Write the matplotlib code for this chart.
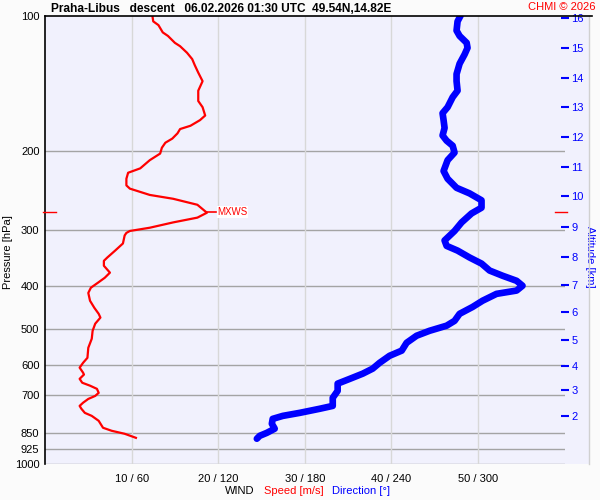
import matplotlib
matplotlib.use('Agg')
import matplotlib.pyplot as plt
from matplotlib.ticker import NullLocator, FixedLocator
from matplotlib.patches import Rectangle
from matplotlib.lines import Line2D

plt.rcParams['font.family'] = ['Liberation Sans', 'DejaVu Sans']

# wind speed profile
speed_p = [100, 103, 105, 109, 111, 115, 117, 121, 125, 129, 134, 140, 147, 155, 160,
           167, 171, 176, 179, 183, 188, 192, 197, 203, 210, 219, 224, 231, 239, 243,
           251, 256, 264, 275, 282, 289, 297, 302, 305, 309, 322, 334, 346, 352, 361,
           374, 384, 394, 404, 415, 432, 448, 462, 471, 486, 504, 525, 550, 579, 594,
           609, 625, 631, 645, 658, 668, 679, 693, 704, 715, 729, 741, 752, 768, 780,
           800, 829, 842, 855, 873]
speed_ms = [12.4, 12.5, 13.1, 13.6, 14.2, 15.0, 15.6, 16.4, 17.0, 17.3, 17.7, 18.2, 17.7, 17.7, 18.2,
            18.5, 17.9, 16.8, 15.6, 15.3, 14.7, 13.9, 13.5, 13.3, 12.1, 11.0, 9.6, 9.4, 9.4, 9.8,
            12.1, 14.8, 17.6, 18.7, 17.6, 14.8, 12.1, 9.8, 9.4, 9.2, 9.0, 8.1, 7.2, 6.8, 6.8,
            7.5, 6.9, 6.1, 5.3, 5.0, 5.2, 5.7, 6.2, 6.4, 5.8, 5.5, 5.4, 5.0, 4.9, 4.4,
            4.0, 4.4, 4.5, 4.0, 4.3, 5.2, 6.0, 6.2, 5.8, 5.0, 4.4, 4.0, 4.2, 4.6, 5.4,
            6.2, 6.7, 7.7, 9.2, 10.5]

# wind direction profile
dir_p = [100, 103, 108, 111, 115, 118, 122, 128, 135, 140, 147, 152, 160, 165, 171,
         178, 185, 190, 195, 202, 210, 222, 231, 242, 249, 258, 268, 276, 289, 302,
         317, 326, 334, 346, 357, 370, 380, 390, 400, 410, 417, 432, 446, 462, 479,
         491, 504, 517, 536, 558, 573, 594, 612, 628, 645, 661, 686, 711, 741, 752,
         768, 780, 792, 812, 833, 851, 864, 877]
dir_deg = [288.0, 285.9, 285.2, 287.3, 292.2, 292.8, 290.8, 287.3, 285.2, 285.2, 285.9, 282.5, 279.0, 275.5, 276.2,
           276.9, 275.5, 278.3, 282.5, 283.8, 279.0, 276.2, 279.0, 285.2, 294.2, 302.5, 302.5, 295.6, 288.7, 283.8,
           276.9, 278.3, 285.9, 294.2, 302.5, 308.1, 317.1, 326.8, 330.9, 326.8, 312.9, 303.2, 296.3, 287.3, 283.8,
           278.3, 266.5, 257.5, 250.6, 247.2, 238.8, 231.9, 227.1, 220.2, 211.2, 202.8, 202.8, 199.4, 199.4, 190.4,
           176.5, 164.8, 157.8, 157.2, 159.2, 153.7, 148.8, 146.8]

p_ticks = [100, 200, 300, 400, 500, 600, 700, 850, 925, 1000]
speed_ticks = [10, 20, 30, 40, 50]
dir_ticks = [60, 120, 180, 240, 300]
alt_km = [2, 3, 4, 5, 6, 7, 8, 9, 10, 11, 12, 13, 14, 15, 16]
alt_p = [780, 683, 604, 528, 458, 398.5, 345, 296, 253, 217, 186, 160, 138, 118.3, 101.4]
mxws_p = 274
mxws_speed = 18.7

title = 'Praha-Libus   descent   06.02.2026 01:30 UTC  49.54N,14.82E'

bg = '#f1f1fd'
fig = plt.figure(figsize=(6, 5), dpi=100, facecolor='#fbfbfb')
L, B, W, H = 45/600, 35.7/500, 519.5/600, 448.7/500
ax = fig.add_axes([L, B, W, H])
ax.set_facecolor(bg)
ax.set_yscale('log')
ax.set_ylim(1000, 100)
ax.set_xlim(0, 60)
ax.yaxis.set_major_locator(FixedLocator(p_ticks))
ax.yaxis.set_minor_locator(NullLocator())
ax.set_yticklabels([str(p) for p in p_ticks])
ax.set_xticks(speed_ticks)
ax.set_xticklabels(['%d / %d' % (s, d) for s, d in zip(speed_ticks, dir_ticks)])
ax.tick_params(axis='both', length=0, labelsize=8)
ax.tick_params(axis='y', pad=4)
ax.tick_params(axis='x', pad=7)
for p in p_ticks[1:]:
    ax.axhline(p, color='#a4a4a4', lw=1, zorder=1)
for s in speed_ticks:
    ax.axvline(s, color='#d8d8d8', lw=1, zorder=1)
for side in ['top', 'right', 'bottom']:
    ax.spines[side].set_visible(False)
ax.spines['left'].set_color('black')
ax.spines['left'].set_linewidth(1.2)
ax.set_ylabel('Pressure [hPa]', fontsize=8)
ax.yaxis.set_label_coords(-0.0616, 0.473)

ax.plot(speed_ms, speed_p, color='red', lw=1.6, zorder=3)
ax.plot([mxws_speed, mxws_speed + 1.0], [mxws_p, mxws_p], color='red', lw=1.2, zorder=3)
ax.text(mxws_speed + 1.2, mxws_p, 'MXWS', color='red', fontsize=7, va='center', ha='left',
        bbox=dict(fc='white', ec='none', pad=0.5), zorder=4)

axd = ax.twiny()
axd.set_xlim(0, 360)
axd.set_xticks([])
for side in axd.spines:
    axd.spines[side].set_visible(False)
axd.plot(dir_deg, dir_p, color='#0000ff', lw=4.8, solid_capstyle='round', zorder=3)

axa = ax.twinx()
axa.set_yscale('log')
axa.set_ylim(1000, 100)
axa.yaxis.set_major_locator(FixedLocator(alt_p))
axa.yaxis.set_minor_locator(NullLocator())
axa.set_yticklabels([str(a) for a in alt_km])
axa.tick_params(axis='y', direction='inout', length=6, width=1.5, color='#0000ff',
                labelcolor='#0000ff', labelsize=8, pad=2)
for side in axa.spines:
    axa.spines[side].set_visible(False)
axa.set_ylabel('Altitude [km]', color='#0000ff', fontsize=8, rotation=270)
axa.yaxis.set_label_coords(1.0587, 0.462)

# strip on the right behind altitude labels
fig.add_artist(Rectangle((564.5/600, B), 24/600, H, transform=fig.transFigure,
                         fc=bg, ec='none', zorder=-1))
fig.add_artist(Line2D([589/600, 589/600], [B, B + H], transform=fig.transFigure,
                      color='#d0d0d0', lw=1))
# top frame line
fig.add_artist(Line2D([45/600, 592/600], [B + H, B + H], transform=fig.transFigure,
                      color='black', lw=1.2))
# MXWS level markers on both sides
ymx = 1 - 212/500
fig.add_artist(Line2D([43/600, 56/600], [ymx, ymx], transform=fig.transFigure, color='red', lw=1))
fig.add_artist(Line2D([555/600, 567/600], [ymx, ymx], transform=fig.transFigure, color='red', lw=1))

fig.text(51/600, 1 - 8.5/500, title, fontsize=8.6, fontweight='bold', va='center', ha='left')
fig.text(596/600, 1 - 7/500, 'CHMI \u00a9 2026', fontsize=8, color='red', va='center', ha='right')
fig.text(225/600, 1 - 491/500, 'WIND', fontsize=8, va='center', ha='left')
fig.text(264/600, 1 - 491/500, 'Speed [m/s]', fontsize=8, color='red', va='center', ha='left')
fig.text(332/600, 1 - 491/500, 'Direction [\u00b0]', fontsize=8, color='#0000ff', va='center', ha='left')

fig.savefig('out.png', dpi=100, facecolor=fig.get_facecolor())
